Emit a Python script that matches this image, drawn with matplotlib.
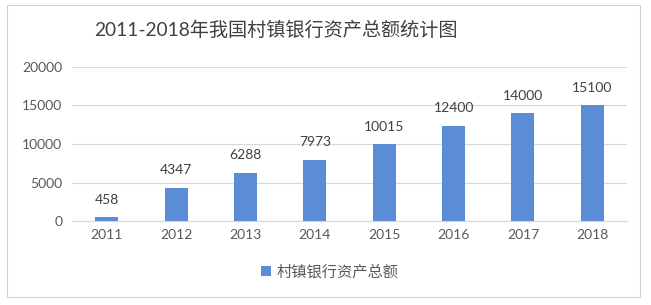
import matplotlib
matplotlib.use("Agg")
import matplotlib.pyplot as plt
from matplotlib.patches import Rectangle

plt.rcParams['font.family'] = ['Lato', 'Noto Sans CJK SC', 'DejaVu Sans']

years = ['2011', '2012', '2013', '2014', '2015', '2016', '2017', '2018']
assets = [458, 4347, 6288, 7973, 10015, 12400, 14000, 15100]
title = '2011-2018年我国村镇银行资产总额统计图'
series_name = '村镇银行资产总额'
yticks = [0, 5000, 10000, 15000, 20000]

bar_color = '#5B8DD6'
text_color = '#595959'

fig = plt.figure(figsize=(6.51, 3.05), dpi=100)
fig.patch.set_facecolor('white')
fig.patches.append(Rectangle((7/651, 1-297/305), (640-7)/651, (297-5)/305,
                             transform=fig.transFigure, fill=False,
                             edgecolor='#D0D0D0', linewidth=0.8))

ax = fig.add_axes([72/651, 1-221/305, (627-72)/651, (221-67)/305])
x = range(len(years))
bars = ax.bar(x, assets, width=0.33, color=bar_color, label=series_name, zorder=3)
ax.set_xlim(-0.5, len(years)-0.5)
ax.set_ylim(0, 20000)
ax.set_yticks(yticks)
ax.set_yticklabels([str(v) for v in yticks])
ax.set_xticks(list(x))
ax.set_xticklabels(years)
ax.yaxis.grid(True, color='#D9D9D9', linewidth=0.8, zorder=0)
for s in ['top', 'right', 'left']:
    ax.spines[s].set_visible(False)
ax.spines['bottom'].set_color('#D9D9D9')
ax.tick_params(axis='both', length=0, labelsize=10, labelcolor=text_color)
ax.tick_params(axis='y', pad=7)
ax.tick_params(axis='x', pad=6)

for xi, v in zip(x, assets):
    ax.annotate(str(v), (xi, v), xytext=(0, 8), textcoords='offset points',
                ha='center', va='bottom', fontsize=10, color='#404040')

fig.text(276/651, 1-30/305, title, ha='center', va='center', fontsize=13.8, color='#404040')

leg = fig.legend(handles=[bars], labels=[series_name], loc='center',
                 bbox_to_anchor=(330/651, 1-272/305), frameon=False,
                 fontsize=11, handlelength=0.6, handleheight=0.6, handletextpad=0.4)
for t in leg.get_texts():
    t.set_color(text_color)

fig.savefig('out.png', dpi=100)
